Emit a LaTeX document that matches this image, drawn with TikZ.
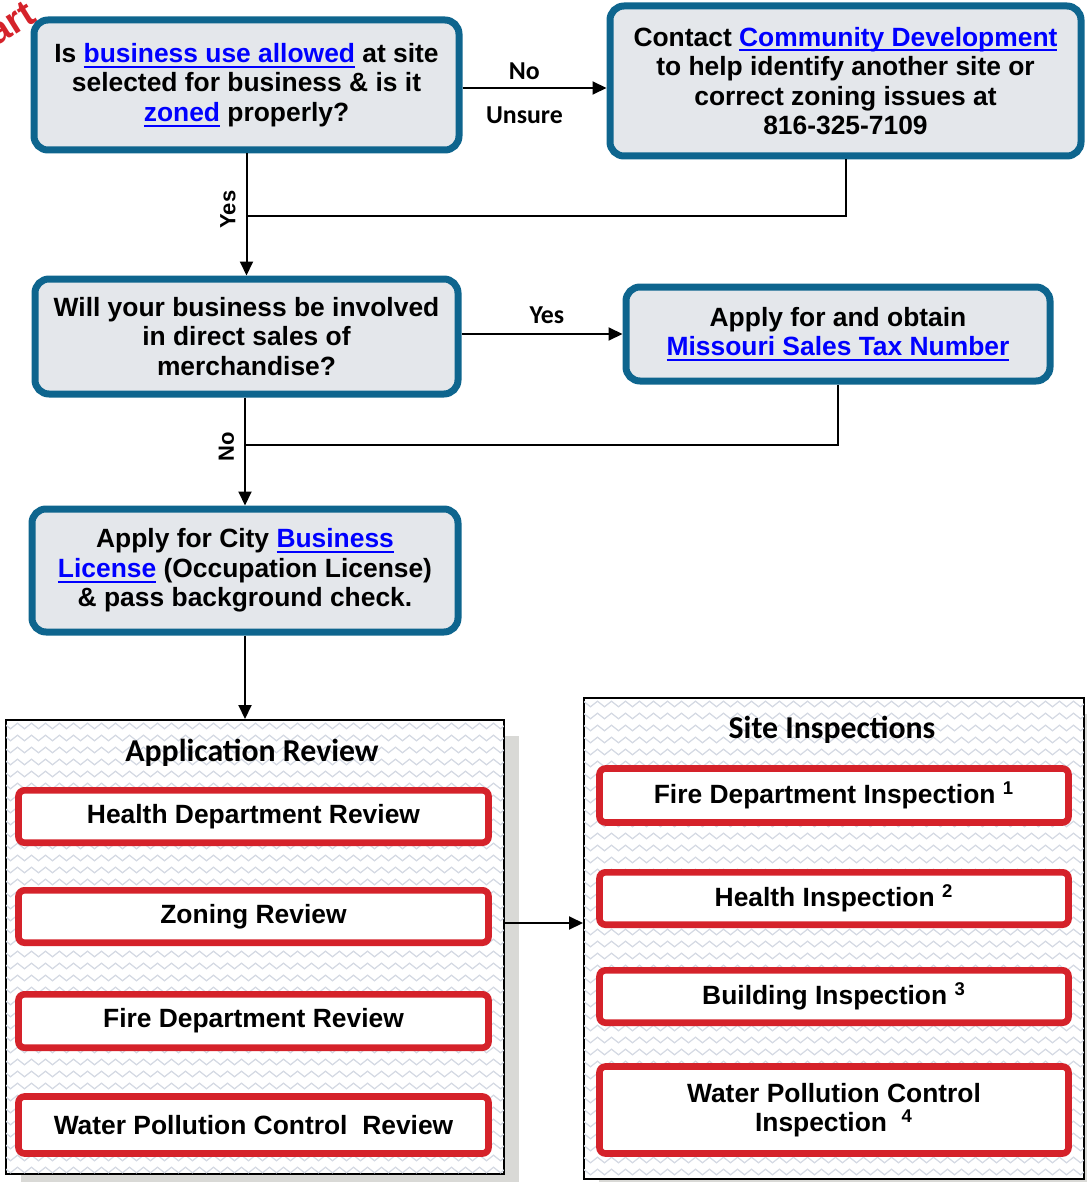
\documentclass[tikz,border=0pt]{standalone}
\usepackage{fontspec}
\setmainfont{Liberation Sans}
\newfontfamily\califont{Carlito}
\usetikzlibrary{arrows.meta, positioning, shadows, decorations.pathmorphing}

\definecolor{boxblue}{RGB}{14,101,142}
\definecolor{boxgray}{RGB}{228,231,235}
\definecolor{boxred}{RGB}{213,34,42}
\definecolor{linkblue}{RGB}{0,0,255}
\definecolor{shadowgray}{RGB}{217,217,214}
\definecolor{zzgray}{RGB}{212,217,227}

% blue underlined link text
\newcommand{\weblink}[1]{\textcolor{linkblue}{\sbox0{#1}\rlap{\rule[-0.2em]{\wd0}{0.075em}}\usebox0}}

\begin{document}
\begin{tikzpicture}[x=0.5pt, y=-0.5pt, >={Triangle[length=7pt,width=6.5pt]},
    font=\fontsize{13.2}{14.8}\selectfont\bfseries,
    qbox/.style={draw=boxblue, line width=3.5pt, fill=boxgray, rounded corners=7pt, align=center, inner sep=0pt},
    redbox/.style={draw=boxred, line width=3.3pt, fill=white, rounded corners=3pt, align=center, inner sep=0pt, minimum width=235pt},
    groupbox/.style={draw, line width=1pt, fill=white, inner sep=0pt,
      drop shadow={shadow xshift=7.5pt, shadow yshift=-8pt, fill=shadowgray, opacity=1}},
    grouptitle/.style={font=\califont\fontsize{15.9}{17}\selectfont\bfseries},
    zz/.style={zzgray, line width=0.6pt, decorate, decoration={zigzag, segment length=7pt, amplitude=1.4pt}},
    flow/.style={line width=1pt},
    lbl/.style={font=\califont\fontsize{12.9}{14}\selectfont\bfseries, inner sep=0pt},
    vlbl/.style={font=\fontsize{11}{12}\selectfont\bfseries, inner sep=0pt}]

    \useasboundingbox (0,0) rectangle (1086,1182);

    \node[text=boxred, rotate=32, anchor=base east, font=\fontsize{19}{19}\selectfont\bfseries] (start) at (44,17) {Start};

    % decision / step boxes
    \node[qbox, minimum width=212.5pt, minimum height=65pt] (q1) at (246.5,85)
      {Is \weblink{business use allowed} at site\\ selected for business \& is it\\ \weblink{zoned} properly?};
    \node[qbox, minimum width=235.5pt, minimum height=75pt] (contact) at (845.5,81)
      {Contact \weblink{Community Development}\\ to help identify another site or\\ correct zoning issues at\\ 816-325-7109};
    \node[qbox, minimum width=211.5pt, minimum height=57.5pt] (q2) at (246.5,336.5)
      {Will your business be involved\\ in direct sales of\\ merchandise?};
    \node[qbox, minimum width=212pt, minimum height=47pt] (tax) at (838,334)
      {Apply for and obtain\\ \weblink{Missouri Sales Tax Number}};
    \node[qbox, minimum width=213pt, minimum height=61.5pt] (license) at (245,570.5)
      {Apply for City \weblink{Business}\\ \weblink{License} (Occupation License)\\ \& pass background check.};

    \coordinate (j1) at (246.5,216);
    \coordinate (j2) at (245,445);

    \draw[->, flow] ([yshift=-1.5pt]q1.east) --
      node[lbl, pos=0.43, above=3.9pt] (no1) {No}
      node[lbl, pos=0.43, below=8.9pt] (unsure) {Unsure}
      ([yshift=-1.5pt]q1.east -| contact.west);
    \draw[flow] (contact.south) |- (j1);
    \draw[->, flow] (q1.south) -- node[vlbl, pos=0.46, left=5pt] (yes1) {\rotatebox{90}{Yes}} (q1.south |- q2.north);
    \draw[->, flow] (q2.east |- tax.west) -- node[lbl, pos=0.53, above=4.8pt] (yes2) {Yes} (tax.west);
    \draw[flow] (tax.south) |- (j2);
    \draw[->, flow] (license.north |- q2.south) -- node[vlbl, pos=0.46, left=5pt] (no2) {\rotatebox{90}{No}} (license.north);

    % review group
    \node[groupbox, minimum width=249pt, minimum height=227pt] (review) at (255,947) {};
    \begin{scope}
      \clip ([shift={(0.6pt,0.6pt)}]review.south west) rectangle ([shift={(-0.6pt,-0.6pt)}]review.north east);
      \foreach \y in {726,738,...,1174}
        \draw[zz] (0,\y) -- (520,\y);
    \end{scope}
    \node[grouptitle] (revtitle) at (252,753) {Application Review};
    \node[redbox, minimum height=26.2pt] (r1) at (253.5,816.5) {Health Department Review};
    \node[redbox, minimum height=26.2pt] (r2) at (253.5,916.5) {Zoning Review};
    \node[redbox, minimum height=26.7pt] (r3) at (253.5,1021) {Fire Department Review};
    \node[redbox, minimum height=28.5pt] (r4) at (253.5,1125) {Water Pollution Control\ \ Review};

    % inspection group
    \node[groupbox, minimum width=250pt, minimum height=240.5pt] (site) at (834,938.5) {};
    \begin{scope}
      \clip ([shift={(0.6pt,0.6pt)}]site.south west) rectangle ([shift={(-0.6pt,-0.6pt)}]site.north east);
      \foreach \y in {704,716,...,1178}
        \draw[zz] (580,\y) -- (1090,\y);
    \end{scope}
    \node[grouptitle] (sitetitle) at (832,730) {Site Inspections};
    \node[redbox, minimum width=234.5pt, minimum height=27pt] (s1) at (834,795.5) {Fire Department Inspection \textsuperscript{1}};
    \node[redbox, minimum width=234.5pt, minimum height=26.2pt] (s2) at (834,898.5) {Health Inspection \textsuperscript{2}};
    \node[redbox, minimum width=234.5pt, minimum height=26.2pt] (s3) at (834,996.5) {Building Inspection \textsuperscript{3}};
    \node[redbox, minimum width=234.5pt, minimum height=43.5pt] (s4) at (834,1110) {Water Pollution Control\\ Inspection\ \ \textsuperscript{4}};

    \draw[->, flow] (license.south) -- (license.south |- review.north);
    \draw[->, flow] ([yshift=12pt]review.east) -- ([yshift=12pt]review.east -| site.west);
\end{tikzpicture}
\end{document}
